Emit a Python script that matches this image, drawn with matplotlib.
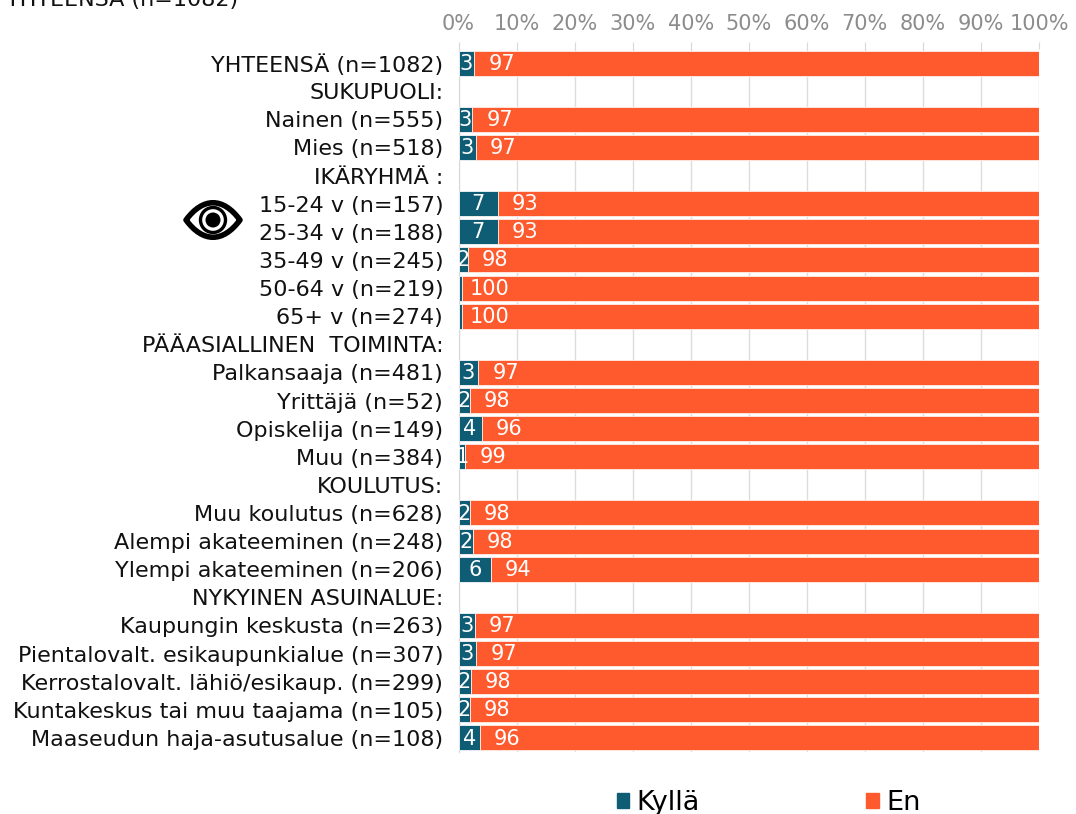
import numpy as np
import matplotlib
matplotlib.use("Agg")
import matplotlib.pyplot as plt
from matplotlib.patches import Patch, PathPatch, Circle
from matplotlib.path import Path

kategoriat = ["YHTEENSÄ (n=1082)", "SUKUPUOLI:", "Nainen (n=555)", "Mies (n=518)", "IKÄRYHMÄ :",
	"15-24 v (n=157)", "25-34 v (n=188)", "35-49 v (n=245)", "50-64 v (n=219)", "65+ v (n=274)",
	"PÄÄASIALLINEN  TOIMINTA:", "Palkansaaja (n=481)", "Yrittäjä (n=52)", "Opiskelija (n=149)", "Muu (n=384)",
	"KOULUTUS:", "Muu koulutus (n=628)", "Alempi akateeminen (n=248)", "Ylempi akateeminen (n=206)",
	"NYKYINEN ASUINALUE:", "Kaupungin keskusta (n=263)", "Pientalovalt. esikaupunkialue (n=307)",
	"Kerrostalovalt. lähiö/esikaup. (n=299)", "Kuntakeskus tai muu taajama (n=105)", "Maaseudun haja-asutusalue (n=108)"]

# tarkat arvot luettu kuvasta, otsikkoriveilla nan
kylla = [2.7, np.nan, 2.4, 3.0, np.nan, 6.8, 6.8, 1.6, 0.6, 0.6, np.nan, 3.4, 1.9, 4.0, 1.2, np.nan,
	1.9, 2.5, 5.6, np.nan, 2.8, 3.1, 2.1, 1.9, 3.7]
kylla_tekstit = ["3", "", "3", "3", "", "7", "7", "2", "", "", "", "3", "2", "4", "1", "", "2", "2", "6", "", "3", "3", "2", "2", "4"]
en_tekstit = ["97", "", "97", "97", "", "93", "93", "98", "100", "100", "", "97", "98", "96", "99", "", "98", "98", "94", "", "97", "97", "98", "98", "96"]
prosentit = np.arange(0, 101, 10)

SININEN = "#0f5c75"
ORANSSI = "#ff5a2d"
L, T, R, B = 458.5, 49, 1039, 752

def main():
	fig = plt.figure(figsize=(10.76, 8.14), dpi=100)
	ax = fig.add_axes([L / 1076, 1 - B / 814, (R - L) / 1076, (B - T) / 814])
	y = np.arange(len(kategoriat))
	en = 100 - np.array(kylla)
	ax.barh(y, kylla, height=0.89, color=SININEN, edgecolor="#e8eef0", linewidth=0.7, zorder=3)
	ax.barh(y, en, left=kylla, height=0.89, color=ORANSSI, edgecolor="#ffe3db", linewidth=0.7, zorder=3)
	for i in y:
		if kylla_tekstit[i]:
			ax.text(kylla[i] / 2, i + 0.02, kylla_tekstit[i], color="white", fontsize=15, ha="center", va="center", zorder=4)
		if en_tekstit[i]:
			ax.text(kylla[i] + 4.7, i + 0.02, en_tekstit[i], color="white", fontsize=15, ha="center", va="center", zorder=4)
	ax.set_xlim(0, 100)
	ax.set_ylim(len(kategoriat) - 0.5, -0.5)
	ax.set_yticks(y)
	ax.set_yticklabels(kategoriat, fontsize=16, color="#111111")
	ax.set_xticks(prosentit)
	ax.set_xticklabels([str(p) + "%" for p in prosentit], fontsize=15, color="#8c8c8c")
	ax.xaxis.tick_top()
	ax.tick_params(axis="y", length=0, pad=11)
	ax.tick_params(axis="x", length=5, color="#d9d9d9", pad=6)
	ax.grid(axis="x", color="#dcdcdc", linewidth=1, zorder=0)
	for s in ax.spines:
		ax.spines[s].set_visible(False)
	ax.spines["left"].set_visible(True)
	ax.spines["left"].set_color("#d9d9d9")

	fig.text(6 / 1076, 1 - 6 / 814, "YHTEENSÄ (n=1082)", fontsize=16, color="#111111", ha="left", va="baseline")

	kasi = [Patch(color=SININEN, label="Kyllä"), Patch(color=ORANSSI, label="En")]
	fig.legend(handles=kasi, loc="lower left", bbox_to_anchor=(617 / 1076, -2 / 814), ncols=2, frameon=False,
		fontsize=19.5, handlelength=0.45, handleheight=0.45, handletextpad=0.27, columnspacing=6.15, borderpad=0, borderaxespad=0)

	# silma-ikoni
	ic = fig.add_axes([0, 0, 1, 1], zorder=5)
	ic.set_xlim(0, 1076)
	ic.set_ylim(814, 0)
	ic.axis("off")
	cx, cy = 213, 220
	w, h = 27, 23
	silma = Path([(cx - w, cy), (cx - 10, cy - h), (cx + 10, cy - h), (cx + w, cy), (cx + 10, cy + h), (cx - 10, cy + h), (cx - w, cy), (cx - w, cy)],
		[Path.MOVETO, Path.CURVE4, Path.CURVE4, Path.CURVE4, Path.CURVE4, Path.CURVE4, Path.CURVE4, Path.CLOSEPOLY])
	ic.add_patch(PathPatch(silma, facecolor="white", edgecolor="black", linewidth=4, joinstyle="round"))
	ic.add_patch(Circle((cx, cy), 12.5, facecolor="white", edgecolor="black", linewidth=2.4))
	ic.add_patch(Circle((cx, cy), 7.5, facecolor="black", edgecolor="none"))

	fig.savefig("out.png", dpi=100)

if __name__ == "__main__":
	main()
